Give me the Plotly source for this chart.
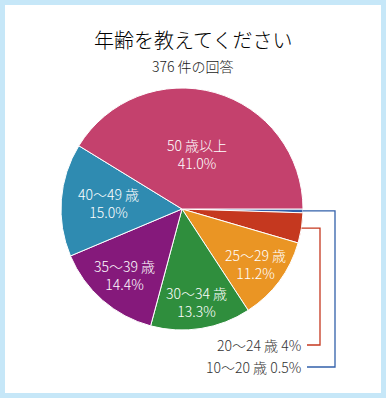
import math
import plotly.graph_objects as go

# ---- data ----
categories = ["10〜20 歳", "20〜24 歳", "25〜29 歳", "30〜34 歳", "35〜39 歳", "40〜49 歳", "50 歳以上"]
percents = [0.5, 4, 11.2, 13.3, 14.4, 15.0, 41.0]
pct_labels = ["0.5%", "4%", "11.2%", "13.3%", "14.4%", "15.0%", "41.0%"]
title_text = "年齢を教えてください"
subtitle_text = "376 件の回答"

# ---- style ----
colors = ["#3260aa", "#c5381f", "#ea9524", "#2f8e3d", "#85197b", "#2f8bb1", "#c4416d"]
label_radius = [None, None, 0.76, 0.78, 0.72, 0.61, 0.47]   # inside labels (fraction of R)
outside_knee_x = [335, 320]     # px, for the two small slices (blue, red)
outside_label_y = [367, 345]
W, H = 386, 398
CX, CY, R = 182, 209, 121
FONT = "Noto Sans CJK JP"
WEIGHT = 300

def px(x):
    return x / W

def py(y):
    return 1 - y / H

fig = go.Figure(go.Pie(
    values=percents,
    labels=categories,
    sort=False,
    direction="clockwise",
    rotation=90,
    marker=dict(colors=colors, line=dict(color="white", width=1)),
    textinfo="none",
    hoverinfo="none",
    domain=dict(x=[px(CX - R), px(CX + R)], y=[py(CY + R), py(CY - R)]),
    showlegend=False,
))

total = sum(percents)
cum = 0.0
annotations = []
shapes = [dict(type="rect", xref="paper", yref="paper",
               x0=px(5), x1=px(381), y0=py(393), y1=py(5),
               fillcolor="white", line=dict(width=0), layer="below")]
small_idx = 0
for i, v in enumerate(percents):
    mid = (cum + v / 2) / total * 2 * math.pi  # clockwise from 3 o'clock
    cum += v
    if label_radius[i] is not None:
        r = label_radius[i] * R
        x = CX + r * math.cos(mid)
        y = CY + r * math.sin(mid)
        annotations.append(dict(
            x=px(x), y=py(y), xref="paper", yref="paper",
            text=f"{categories[i]}<br>{pct_labels[i]}", showarrow=False,
            font=dict(family=FONT, size=14, color="white", weight=WEIGHT),
            xanchor="center", yanchor="middle", align="center"))
    else:
        ex = CX + R * math.cos(mid)
        ey = CY + R * math.sin(mid)
        kx = outside_knee_x[small_idx]
        ly = outside_label_y[small_idx]
        lx_end = 307
        pts = [(ex, ey), (kx, ey), (kx, ly), (lx_end, ly)]
        path = "M " + " L ".join(f"{px(a)},{py(b)}" for a, b in pts)
        shapes.append(dict(type="path", xref="paper", yref="paper", path=path,
                           line=dict(color=colors[i], width=1.3)))
        annotations.append(dict(
            x=px(lx_end - 4), y=py(ly), xref="paper", yref="paper",
            text=f"{categories[i]} {pct_labels[i]}", showarrow=False,
            font=dict(family=FONT, size=14, color="#333333", weight=WEIGHT),
            xanchor="right", yanchor="middle"))
        small_idx += 1

annotations.append(dict(x=0.5, y=py(39), xref="paper", yref="paper", text=title_text,
                        showarrow=False, font=dict(family=FONT, size=20, color="#000000", weight=WEIGHT),
                        xanchor="center", yanchor="middle"))
annotations.append(dict(x=0.5, y=py(66), xref="paper", yref="paper", text=subtitle_text,
                        showarrow=False, font=dict(family=FONT, size=14, color="#1a1a1a", weight=WEIGHT),
                        xanchor="center", yanchor="middle"))

fig.update_layout(
    width=W, height=H,
    margin=dict(l=0, r=0, t=0, b=0),
    paper_bgcolor="#c6e7f8",
    annotations=annotations,
    shapes=shapes,
)
fig.write_html("out.html", config={"displayModeBar": False})
